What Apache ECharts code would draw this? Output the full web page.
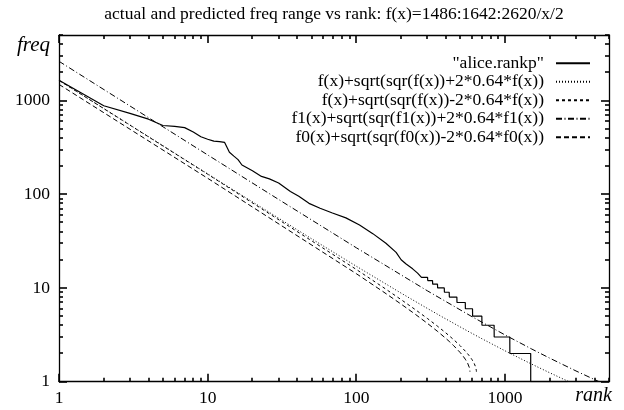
<!DOCTYPE html>
<html><head><meta charset="utf-8">
<script src="https://cdn.jsdelivr.net/npm/echarts@6/dist/echarts.min.js"></script>
<style>html,body{margin:0;padding:0;background:#fff}#c{width:624px;height:410px}</style>
</head><body><div id="c"></div>
<script>
// ---- data ----
const aliceRank = [1,2,3,4,5,6,7,8,9,10,11,12,13,14,15,16,17,20,23,26,30,36,41,48,57,69,85,105,129,158,185,200,216,239,258,274,301,302,325,326,351,352,390,391,421,422,474,475,540,541,604,605,698,699,844,845,1076,1077,1487,1488,2620];
const aliceFreq = [1642,880,729,632,541,530,514,462,410,386,369,365,357,280,255,234,205,178,155,146,132,107,95,80,71,63,56,47,38,30,24,20,18,16,14.4,13,13,12,12,11,11,10,10,9,9,8,8,7,7,6,6,5,5,4,4,3,3,2,2,1,1];

const fPlusX  = [1,10,50,100,200,300,400,550,700,1000,1500,2000,2500,2693];
const fPlusY  = [1642.6,164.84,33.47,17.04,8.807,6.052,4.668,3.527,2.869,2.134,1.547,1.2435,1.0552,1.0];

const fMinusX = [1,10,100,150,200,250,300,350,400,450,500,550,580,600,620,635,641,641.4];
const fMinusY = [1641.4,163.56,15.75,10.263,7.510,5.849,4.733,3.927,3.312,2.821,2.413,2.056,1.854,1.716,1.566,1.422,1.314,1.28];

const f1PlusX = [1,10,30,100,300,600,1000,1500,2000,3000,4000,4297];
const f1PlusY = [2620.6,262.64,87.97,26.83,9.332,4.933,3.152,2.2447,1.781,1.302,1.053,1.0];

const f0MinusX = [1,10,100,150,200,250,300,350,400,425,450,500,520,540,560,575,580,580.5];
const f0MinusY = [1485.4,147.96,14.19,9.219,6.723,5.2145,4.198,3.4606,2.893,2.653,2.434,2.039,1.890,1.739,1.576,1.418,1.317,1.28];

const seriesNames = [
  '"alice.rankp"',
  'f(x)+sqrt(sqr(f(x))+2*0.64*f(x))',
  'f(x)+sqrt(sqr(f(x))-2*0.64*f(x))',
  'f1(x)+sqrt(sqr(f1(x))+2*0.64*f1(x))',
  'f0(x)+sqrt(sqr(f0(x))-2*0.64*f0(x))'
];
const titleText = 'actual and predicted freq range vs rank: f(x)=1486:1642:2620/x/2';
const xTickLabels = [1,10,100,1000];
const yTickLabels = [1,10,100,1000];
const minorTicks = [2,3,4,5,6,7,8,9,20,30,40,50,60,70,80,90,200,300,400,500,600,700,800,900,2000,3000,4000,5000];
const axisMin = 1, axisMax = 5000;

// ---- build options ----
const zip = (xs, ys) => xs.map((x, i) => [x, ys[i]]);
const lg = v => Math.log10(v);
const FONT = 'Liberation Serif';
const dashes = ['solid', [1,2], [3,3], [6,2.5,1,2.5], [5,3]];
const widths = [1.2, 1, 1, 1, 1];
const dataSets = [zip(aliceRank, aliceFreq), zip(fPlusX, fPlusY), zip(fMinusX, fMinusY), zip(f1PlusX, f1PlusY), zip(f0MinusX, f0MinusY)];

const series = dataSets.map((d, i) => ({
  name: seriesNames[i], type: 'line', data: d,
  symbol: 'none', showSymbol: false, animation: false,
  lineStyle: { color: '#000', width: widths[i], type: dashes[i] },
  itemStyle: { color: '#000' }
}));

// tick marks on all four sides, placed through the log axes' own coordinate mapping
function tickSeries(vals, dim, len) {
  return {
    type: 'custom', silent: true, z: 5, animation: false, clip: false,
    data: vals.map(v => dim === 'x' ? [v, axisMin] : [axisMin, v]),
    renderItem: (params, api) => {
      const st = { stroke: '#000', lineWidth: 1.6 };
      if (dim === 'x') {
        const v = api.value(0);
        const b = api.coord([v, axisMin]), t = api.coord([v, axisMax]);
        const x = Math.round(b[0]);
        return { type: 'group', children: [
          { type: 'line', shape: { x1: x, y1: b[1], x2: x, y2: b[1] - len }, style: st },
          { type: 'line', shape: { x1: x, y1: t[1], x2: x, y2: t[1] + len }, style: st } ] };
      } else {
        const v = api.value(1);
        const l = api.coord([axisMin, v]), r = api.coord([axisMax, v]);
        const y = Math.round(l[1]);
        return { type: 'group', children: [
          { type: 'line', shape: { x1: l[0], y1: y, x2: l[0] + len, y2: y }, style: st },
          { type: 'line', shape: { x1: r[0], y1: y, x2: r[0] - len, y2: y }, style: st } ] };
      }
    }
  };
}

function decoAxis(pos, withLabel, labels) {
  return {
    type: 'value', position: pos, min: 0, max: lg(axisMax),
    axisLine: { show: true, onZero: false, lineStyle: { color: '#000', width: 1.3 } },
    axisTick: { show: false },
    axisLabel: { show: withLabel, customValues: labels.map(lg), margin: (pos === 'bottom' ? 8 : 9),
      formatter: v => String(Math.round(Math.pow(10, v))), color: '#000', fontFamily: FONT, fontSize: 17.5 },
    splitLine: { show: false }
  };
}

const legendTop0 = 54.3, legendStep = 18.5;
const legends = seriesNames.map((n, i) => ({
  data: [n], orient: 'horizontal', align: 'right', right: 33, top: legendTop0 + i * legendStep,
  padding: 0, itemWidth: 34, itemHeight: 14, selectedMode: false,
  itemStyle: { opacity: 0 },
  textStyle: { fontFamily: FONT, fontSize: 17.5, color: '#000', lineHeight: 18, padding: [0, 7, 0, 0] }
}));

const option = {
  animation: false,
  backgroundColor: '#fff',
  title: { text: titleText, left: 334, top: 5, textAlign: 'center', padding: 0,
    textStyle: { fontFamily: FONT, fontSize: 17.5, fontWeight: 'normal', color: '#000' } },
  legend: legends,
  grid: { left: 59, right: 15, top: 35, bottom: 28.3 },
  xAxis: [
    { type: 'log', min: axisMin, max: axisMax, show: false },
    decoAxis('bottom', true, xTickLabels),
    decoAxis('top', false, xTickLabels)
  ],
  yAxis: [
    { type: 'log', min: axisMin, max: axisMax, show: false },
    decoAxis('left', true, yTickLabels),
    decoAxis('right', false, yTickLabels)
  ],
  graphic: [
    { type: 'text', right: 624 - 50, top: 35, style: { text: 'freq', font: 'italic 21px "Liberation Serif"', fill: '#000', textAlign: 'right' } },
    { type: 'text', right: 624 - 612, top: 386, style: { text: 'rank', font: 'italic 20px "Liberation Serif"', fill: '#000', textAlign: 'right' } }
  ],
  series: series.concat([
    tickSeries(xTickLabels, 'x', 8), tickSeries(minorTicks, 'x', 4),
    tickSeries(yTickLabels, 'y', 8), tickSeries(minorTicks, 'y', 4)
  ])
};
const chart = echarts.init(document.getElementById('c'));
chart.setOption(option);
</script></body></html>
